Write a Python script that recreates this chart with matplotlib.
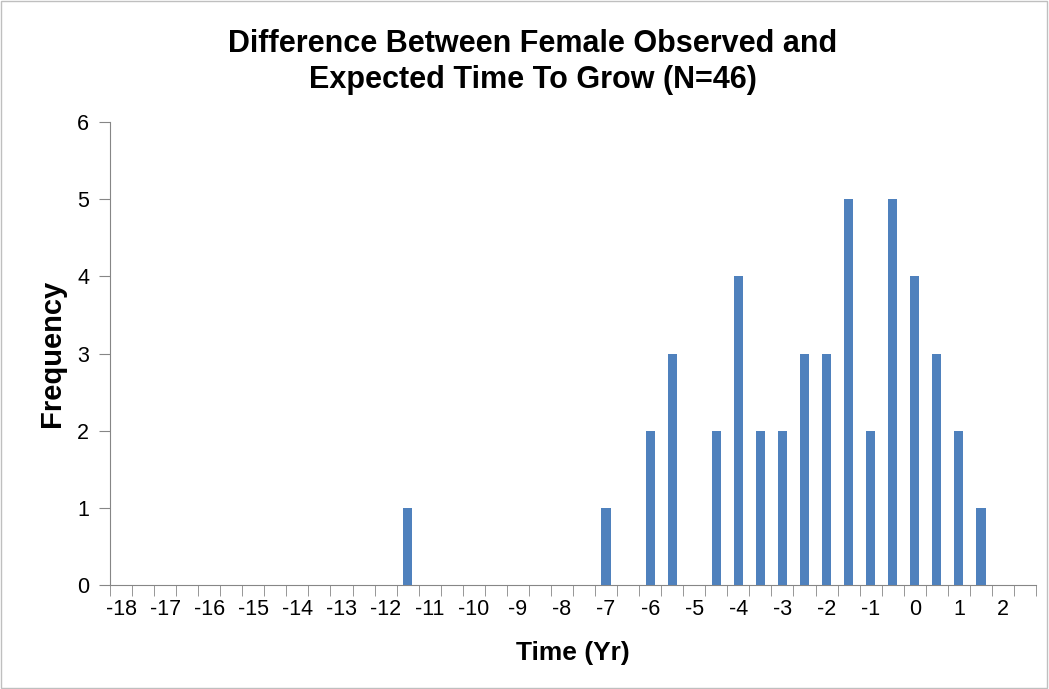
import numpy as np
import matplotlib.pyplot as plt
from matplotlib.patches import Rectangle

# category bins (years), every half year from -18 to 2.5
bins = [x / 2 for x in range(-36, 6)]
# observed non-zero frequencies
bar_bins = [-11.5, -7, -6, -5.5, -4.5, -4, -3.5, -3, -2.5, -2, -1.5, -1, -0.5, 0, 0.5, 1, 1.5]
bar_freq = [1, 1, 2, 3, 2, 4, 2, 2, 3, 3, 5, 2, 5, 4, 3, 2, 1]

freq = [0] * len(bins)
for b, f in zip(bar_bins, bar_freq):
    freq[bins.index(b)] = f

plt.rcParams['font.family'] = ['Liberation Sans', 'DejaVu Sans']

fig = plt.figure(figsize=(10.49, 6.89), dpi=100)
ax = fig.add_axes([110 / 1049, 1 - 585 / 689, 926 / 1049, 463 / 689])

pos = np.arange(len(bins))
ax.bar(pos, freq, width=0.42, color='#4F81BD', zorder=3)

ax.set_xlim(-0.5, len(bins) - 0.5)
ax.set_ylim(0, 6)
ax.set_yticks(range(0, 7))

lab_pos = [i for i, b in enumerate(bins) if b == int(b)]
ax.set_xticks(lab_pos)
ax.set_xticklabels([str(int(bins[i])) for i in lab_pos])
ax.tick_params(axis='x', length=0, labelsize=15.5, pad=10)
ax.set_xticks(np.arange(-0.5, len(bins)), minor=True)
ax.tick_params(axis='x', which='minor', length=8, color='#868686', direction='out')
ax.tick_params(axis='y', length=8, color='#868686', labelsize=15.5, pad=7)

for s in ['top', 'right']:
    ax.spines[s].set_visible(False)
for s in ['left', 'bottom']:
    ax.spines[s].set_color('#868686')

ax.set_xlabel('Time (Yr)', fontsize=19, fontweight='bold', labelpad=15)
ax.set_ylabel('Frequency', fontsize=21, fontweight='bold', labelpad=8)

fig.text(533 / 1049, 1 - 62 / 689, 'Difference Between Female Observed and\nExpected Time To Grow (N=46)',
         ha='center', va='center', fontsize=22, fontweight='bold', linespacing=1.3)

fig.patches.append(Rectangle((0.001, 0.001), 0.997, 0.997, transform=fig.transFigure,
                             fill=False, edgecolor='#BFBFBF', linewidth=1))

fig.savefig('out.png', dpi=100)
